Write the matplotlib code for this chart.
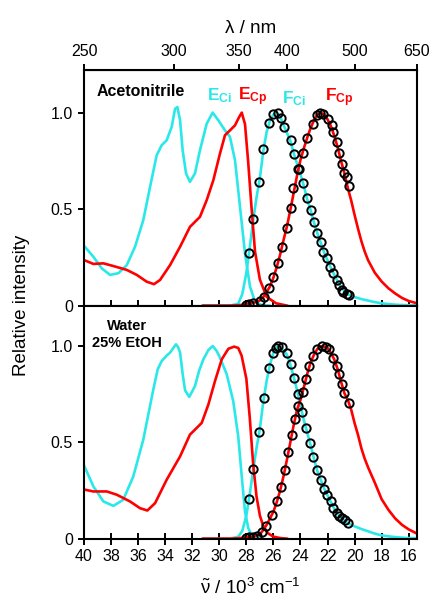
import numpy as np
import matplotlib
matplotlib.use('Agg')
import matplotlib.pyplot as plt

plt.rcParams['font.family'] = ['Liberation Sans', 'DejaVu Sans']
plt.rcParams['mathtext.fontset'] = 'custom'
plt.rcParams['mathtext.rm'] = 'Liberation Sans'
plt.rcParams['mathtext.it'] = 'Liberation Sans:italic'
plt.rcParams['mathtext.bf'] = 'Liberation Sans:bold'

CYAN = '#2BE8E8'
RED = '#FF0000'

# Acetonitrile: absorption (E) and emission (F) of Ci and Cp, k in 10^3 cm-1
k_eci_a = [40.0, 39.31, 38.69, 38.08, 37.46, 36.84, 36.23, 35.62, 35.12, 34.63, 34.26, 33.89,
           33.52, 33.27, 33.10, 32.90, 32.71, 32.46, 32.17, 31.80, 31.43, 30.93, 30.49, 30.07,
           29.58, 29.21, 28.84, 28.47, 28.10, 27.73, 27.36, 26.9, 26.3]
y_eci_a = [0.31, 0.253, 0.193, 0.159, 0.168, 0.21, 0.305, 0.443, 0.615, 0.779, 0.831, 0.857,
           0.926, 1.02, 1.029, 0.96, 0.805, 0.685, 0.641, 0.685, 0.805, 0.943, 1.0, 0.96,
           0.908, 0.874, 0.753, 0.512, 0.271, 0.098, 0.021, 0.004, 0.0]

k_ecp_a = [40.0, 39.31, 38.57, 37.83, 36.84, 36.10, 35.37, 34.83, 34.38, 33.64, 32.90, 32.17,
           31.43, 30.93, 30.44, 29.95, 29.58, 29.21, 28.84, 28.55, 28.34, 28.10, 27.86, 27.61,
           27.36, 27.0, 26.5, 25.8, 25.0]
y_ecp_a = [0.236, 0.216, 0.219, 0.205, 0.185, 0.159, 0.124, 0.111, 0.133, 0.210, 0.305, 0.408,
           0.460, 0.547, 0.650, 0.788, 0.883, 0.908, 0.934, 0.975, 1.0, 0.94, 0.74, 0.50,
           0.28, 0.135, 0.045, 0.012, 0.0]

k_em = [31.2, 29.2, 28.6, 28.3, 28.0, 27.75, 27.5, 27.25, 27.0, 26.75, 26.5, 26.25, 26.0, 25.75,
        25.5, 25.25, 25.0, 24.75, 24.5, 24.25, 24.0, 23.75, 23.5, 23.25, 23.0, 22.75, 22.5,
        22.25, 22.0, 21.75, 21.5, 21.25, 21.0, 20.75, 20.5, 20.25, 20.0, 19.75, 19.5, 19.25,
        19.0, 18.5, 18.0, 17.5, 17.0, 16.5, 16.0, 15.385]

y_fci_a = [0, 0, 0.01, 0.06, 0.17, 0.30, 0.44, 0.56, 0.66, 0.80, 0.90, 0.96, 0.99, 1.0,
           0.98, 0.935, 0.895, 0.855, 0.79, 0.735, 0.68, 0.62, 0.55, 0.495, 0.43, 0.375, 0.325,
           0.275, 0.235, 0.195, 0.16, 0.125, 0.095, 0.075, 0.06, 0.05, 0.044, 0.039, 0.034, 0.03,
           0.026, 0.018, 0.012, 0.008, 0.005, 0.003, 0.002, 0.001]
y_fcp_a = [0, 0, 0.002, 0.004, 0.007, 0.009, 0.015, 0.02, 0.027, 0.045, 0.07, 0.10, 0.145, 0.20,
           0.265, 0.34, 0.41, 0.495, 0.585, 0.675, 0.755, 0.815, 0.87, 0.92, 0.96, 0.99, 1.0,
           0.99, 0.965, 0.93, 0.88, 0.82, 0.75, 0.685, 0.61, 0.545, 0.47, 0.40, 0.335, 0.28,
           0.235, 0.17, 0.125, 0.09, 0.063, 0.04, 0.024, 0.012]

# measured emission points (acetonitrile)
k_pci_a = [27.80, 27.49, 27.04, 26.75, 26.33, 26.01, 25.64, 25.46, 25.20, 24.72, 24.48, 24.11,
           23.79, 23.54, 23.24, 22.98, 22.76, 22.51, 22.31, 22.06, 21.82, 21.57, 21.32, 21.13,
           20.95, 20.83, 20.58, 20.39]
y_pci_a = [0.274, 0.447, 0.641, 0.809, 0.946, 0.995, 1.0, 0.974, 0.926, 0.857, 0.788, 0.707,
           0.633, 0.555, 0.495, 0.434, 0.374, 0.331, 0.279, 0.245, 0.202, 0.168, 0.133, 0.107,
           0.081, 0.072, 0.060, 0.055]
k_pcp_a = [28.03, 27.78, 27.49, 26.99, 26.70, 26.30, 26.01, 25.64, 25.39, 25.02, 24.72, 24.53,
           24.16, 23.84, 23.50, 23.10, 22.80, 22.56, 22.31, 21.94, 21.69, 21.57, 21.32, 21.15,
           20.95, 20.76, 20.58, 20.39]
y_pcp_a = [0.005, 0.007, 0.012, 0.024, 0.047, 0.093, 0.150, 0.219, 0.305, 0.403, 0.504, 0.607,
           0.710, 0.791, 0.866, 0.943, 0.986, 0.998, 0.991, 0.969, 0.934, 0.900, 0.848, 0.791,
           0.736, 0.688, 0.664, 0.620]

# Water / 25% EtOH
k_eci_w = [40.0, 39.31, 38.57, 37.83, 37.10, 36.36, 35.62, 34.88, 34.55, 34.26, 33.9, 33.64,
           33.35, 33.20, 33.05, 32.90, 32.70, 32.53, 32.22, 31.80, 31.50, 31.18, 30.8, 30.49,
           30.2, 29.95, 29.45, 28.97, 28.6, 28.35, 28.10, 27.86, 27.6, 27.3, 26.8]
y_eci_w = [0.38, 0.271, 0.193, 0.170, 0.202, 0.323, 0.514, 0.774, 0.88, 0.922, 0.95, 0.966,
           0.995, 1.009, 0.995, 0.966, 0.85, 0.77, 0.736, 0.792, 0.87, 0.931, 0.98, 1.0,
           0.975, 0.940, 0.853, 0.714, 0.53, 0.33, 0.14, 0.055, 0.015, 0.003, 0.0]

k_ecp_w = [40.0, 39.31, 38.32, 37.58, 36.60, 35.86, 35.32, 34.75, 33.89, 32.90, 32.17, 31.30,
           30.81, 30.32, 29.82, 29.33, 28.9, 28.6, 28.35, 28.0, 27.75, 27.5, 27.25, 27.0,
           26.75, 26.4, 26.0, 25.5, 25.0]
y_ecp_w = [0.255, 0.245, 0.245, 0.228, 0.193, 0.158, 0.146, 0.184, 0.306, 0.427, 0.540, 0.601,
           0.696, 0.818, 0.931, 0.986, 0.997, 0.99, 0.95, 0.83, 0.63, 0.39, 0.22, 0.12,
           0.065, 0.028, 0.01, 0.003, 0.0]

y_fci_w = [0, 0, 0.01, 0.04, 0.12, 0.23, 0.355, 0.47, 0.57, 0.71, 0.82, 0.905, 0.965, 0.995,
           0.995, 0.98, 0.955, 0.905, 0.84, 0.77, 0.69, 0.615, 0.55, 0.485, 0.415, 0.35, 0.305,
           0.26, 0.225, 0.19, 0.155, 0.13, 0.108, 0.095, 0.08, 0.072, 0.064, 0.057, 0.05, 0.044,
           0.038, 0.026, 0.017, 0.012, 0.008, 0.005, 0.003, 0.002]
y_fcp_w = [0, 0, 0.002, 0.004, 0.006, 0.008, 0.011, 0.016, 0.022, 0.045, 0.072, 0.105, 0.14, 0.19,
           0.25, 0.325, 0.41, 0.50, 0.59, 0.67, 0.72, 0.785, 0.855, 0.915, 0.955, 0.985, 0.998,
           0.998, 0.99, 0.965, 0.93, 0.88, 0.815, 0.755, 0.72, 0.67, 0.60, 0.54, 0.47, 0.415,
           0.37, 0.29, 0.205, 0.15, 0.105, 0.072, 0.048, 0.026]

k_pci_w = [27.80, 27.49, 27.04, 26.70, 26.30, 26.01, 25.80, 25.64, 25.39, 25.02, 24.72, 24.48,
           24.16, 23.91, 23.59, 23.29, 23.04, 22.80, 22.50, 22.26, 22.02, 21.77, 21.57, 21.32,
           21.13, 20.95, 20.70, 20.46]
y_pci_w = [0.207, 0.361, 0.552, 0.731, 0.884, 0.966, 0.99, 1.0, 0.995, 0.966, 0.905, 0.835,
           0.752, 0.658, 0.575, 0.497, 0.422, 0.358, 0.306, 0.259, 0.228, 0.193, 0.158, 0.132,
           0.115, 0.106, 0.097, 0.080]
k_pcp_w = [28.03, 27.78, 27.49, 27.24, 26.87, 26.55, 26.13, 25.76, 25.44, 25.14, 24.90, 24.66,
           24.41, 24.15, 23.84, 23.59, 23.35, 23.05, 22.76, 22.43, 22.11, 21.87, 21.57, 21.32,
           21.13, 20.95, 20.76, 20.39]
y_pcp_w = [0.005, 0.008, 0.010, 0.016, 0.036, 0.068, 0.123, 0.193, 0.266, 0.358, 0.45, 0.54,
           0.62, 0.69, 0.76, 0.83, 0.896, 0.948, 0.983, 1.0, 0.995, 0.983, 0.94, 0.896,
           0.853, 0.804, 0.757, 0.705]

x_ticks = list(range(40, 15, -2))
nm_ticks = [250, 300, 350, 400, 500, 650]

fig = plt.figure(figsize=(4.31, 6.10), dpi=100)
ax1 = fig.add_axes([0.195, 0.499, 0.7725, 0.386])
ax2 = fig.add_axes([0.195, 0.117, 0.7725, 0.382])


def draw_panel(ax, eci, ecp, fci, fcp, pci, pcp, ytop):
    ax.plot(eci[0], eci[1], color=CYAN, lw=1.9)
    ax.plot(k_em, fci, color=CYAN, lw=1.9)
    ax.plot(ecp[0], ecp[1], color=RED, lw=1.9)
    ax.plot(k_em, fcp, color=RED, lw=1.9)
    for k, y in (pci, pcp):
        ax.plot(k, y, 'o', mfc='none', mec='black', ms=6, mew=1.4, zorder=5)
    ax.set_xlim(40, 1e4 / 650)
    ax.set_ylim(0, ytop)
    ax.set_xticks(x_ticks)
    ax.set_yticks([0, 0.5, 1.0])
    ax.set_yticklabels(['0', '0.5', '1.0'])
    ax.tick_params(axis='x', direction='inout', length=8.5, width=1.4, labelsize=11.5)
    ax.tick_params(axis='y', direction='out', length=4.5, width=1.4, labelsize=11.5)
    for s in ax.spines.values():
        s.set_linewidth(1.5)


draw_panel(ax1, (k_eci_a, y_eci_a), (k_ecp_a, y_ecp_a), y_fci_a, y_fcp_a,
           (k_pci_a, y_pci_a), (k_pcp_a, y_pcp_a), 1.22)
draw_panel(ax2, (k_eci_w, y_eci_w), (k_ecp_w, y_ecp_w), y_fci_w, y_fcp_w,
           (k_pci_w, y_pci_w), (k_pcp_w, y_pcp_w), 1.21)
ax1.tick_params(axis='x', labelbottom=False)

# wavelength scale on top
sec = ax1.secondary_xaxis('top', functions=(lambda k: 1e4 / k, lambda l: 1e4 / l))
sec.set_xticks(nm_ticks)
sec.set_xticklabels([str(v) for v in nm_ticks])
sec.tick_params(direction='out', length=4.5, width=1.4, labelsize=11.5)
sec.set_xlabel('λ / nm', fontsize=13.5, labelpad=8)

ax1.text(39.06, 1.11, 'Acetonitrile', fontsize=11.5, fontweight='bold', va='center', ha='left')
ax2.text(36.85, 1.06, 'Water\n25% EtOH', fontsize=10.5, fontweight='bold',
         va='center', ha='center', multialignment='center', linespacing=1.35)

ax1.text(30.91, 1.063, r'$\mathbf{E_{Ci}}$', color=CYAN, fontsize=12.5)
ax1.text(28.62, 1.063, r'$\mathbf{E_{Cp}}$', color=RED, fontsize=12.5)
ax1.text(25.37, 1.05, r'$\mathbf{F_{Ci}}$', color=CYAN, fontsize=12.5)
ax1.text(22.19, 1.058, r'$\mathbf{F_{Cp}}$', color=RED, fontsize=12.5)

ax2.set_xlabel(r'$\tilde{\mathrm{\nu}}$ / 10$^3$ cm$^{-1}$', fontsize=13.5, labelpad=10)
fig.text(0.05, 0.50, 'Relative intensity', rotation=90, fontsize=13.5, va='center', ha='center')

fig.savefig('out.png', dpi=100)
